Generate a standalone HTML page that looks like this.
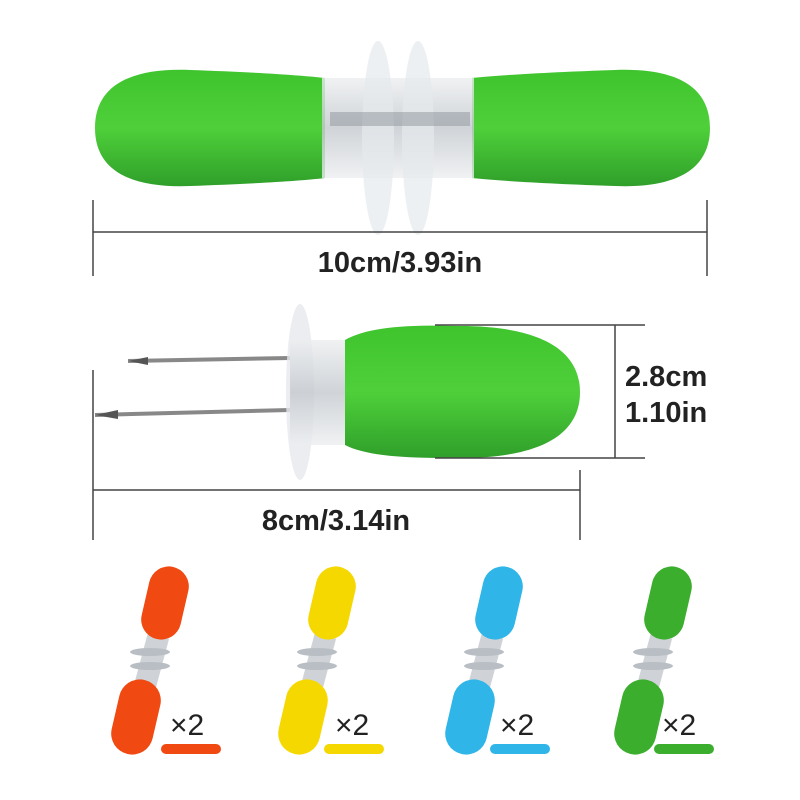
<!DOCTYPE html>
<html><head><meta charset="utf-8"><style>
html,body{margin:0;padding:0;background:#fff;}
svg{display:block}
text{font-family:"Liberation Sans",sans-serif;font-weight:bold;fill:#222}
text.n{font-weight:normal}
</style></head><body>
<svg width="800" height="800" viewBox="0 0 800 800">
<defs>
<linearGradient id="g" x1="0" y1="0" x2="0" y2="1">
<stop offset="0" stop-color="#3fc42e"/><stop offset="0.5" stop-color="#4fd03a"/><stop offset="1" stop-color="#2f9f2a"/></linearGradient>
<linearGradient id="clr" x1="0" y1="0" x2="0" y2="1">
<stop offset="0" stop-color="#eceef0"/><stop offset="0.5" stop-color="#c4c9ce"/><stop offset="1" stop-color="#eceef0"/></linearGradient>
<g id="h">
<rect x="-11" y="-25" width="22" height="50" fill="#cfd3d7" transform="translate(152,660) rotate(15)"/>
<ellipse cx="150" cy="652" rx="20" ry="4" fill="#b8bec4"/>
<ellipse cx="150" cy="666" rx="20" ry="4" fill="#b8bec4"/>
<rect x="-20" y="-37" width="40" height="74" rx="20" transform="translate(165,603) rotate(13)"/>
<rect x="-21" y="-38" width="42" height="76" rx="21" transform="translate(136,717) rotate(13)"/>
</g>
</defs>
<!-- top holder -->
<path d="M95,128 C95,80 140,68 190,70 C250,72 300,75 325,78 L325,178 C300,181 250,184 190,186 C140,188 95,176 95,128Z" fill="url(#g)"/>
<path d="M710,128 C710,80 665,68 615,70 C555,72 500,75 472,78 L472,178 C500,181 555,184 615,186 C665,188 710,176 710,128Z" fill="url(#g)"/>
<rect x="322" y="78" width="152" height="100" fill="url(#clr)" opacity="0.8"/>
<ellipse cx="378" cy="138" rx="16" ry="97" fill="#e6e9ec" opacity="0.7"/>
<ellipse cx="418" cy="138" rx="16" ry="97" fill="#e6e9ec" opacity="0.7"/>
<rect x="330" y="112" width="140" height="14" fill="#8d949b" opacity="0.5"/>
<!-- top dims -->
<line x1="93" y1="200" x2="93" y2="276" stroke="#444" stroke-width="1.5"/>
<line x1="707" y1="200" x2="707" y2="276" stroke="#444" stroke-width="1.5"/>
<line x1="93" y1="232" x2="707" y2="232" stroke="#444" stroke-width="1.5"/>
<text x="400" y="272" font-size="29" text-anchor="middle">10cm/3.93in</text>
<!-- second holder -->
<line x1="128" y1="361" x2="290" y2="358" stroke="#888" stroke-width="4"/>
<line x1="95" y1="415" x2="290" y2="410" stroke="#888" stroke-width="4"/>
<path d="M128,361 L148,357 L148,365Z" fill="#555"/>
<path d="M95,415 L118,410 L118,419Z" fill="#555"/>
<ellipse cx="300" cy="392" rx="14" ry="88" fill="#e6e9ec" opacity="0.8"/>
<rect x="290" y="340" width="60" height="105" fill="url(#clr)" opacity="0.8"/>
<path d="M345,340 C370,325 420,325 460,326 C540,326 580,350 580,392 C580,435 540,458 460,458 C420,458 370,458 345,445Z" fill="url(#g)"/>
<line x1="435" y1="325" x2="645" y2="325" stroke="#444" stroke-width="1.5"/>
<line x1="435" y1="458" x2="645" y2="458" stroke="#444" stroke-width="1.5"/>
<line x1="615" y1="325" x2="615" y2="458" stroke="#444" stroke-width="1.5"/>
<text x="625" y="386" font-size="29">2.8cm</text>
<text x="625" y="422" font-size="29">1.10in</text>
<line x1="93" y1="370" x2="93" y2="540" stroke="#444" stroke-width="1.5"/>
<line x1="580" y1="470" x2="580" y2="540" stroke="#444" stroke-width="1.5"/>
<line x1="93" y1="490" x2="580" y2="490" stroke="#444" stroke-width="1.5"/>
<text x="336" y="530" font-size="29" text-anchor="middle">8cm/3.14in</text>
<!-- small holders -->
<use href="#h" fill="#f04a12"/>
<text class="n" x="170" y="735" font-size="30">×2</text>
<rect x="161" y="744" width="60" height="10" rx="5" fill="#f04a12"/>
<use href="#h" x="167" fill="#f5d800"/>
<text class="n" x="335" y="735" font-size="30">×2</text>
<rect x="324" y="744" width="60" height="10" rx="5" fill="#f5d800"/>
<use href="#h" x="334" fill="#2fb5e8"/>
<text class="n" x="500" y="735" font-size="30">×2</text>
<rect x="490" y="744" width="60" height="10" rx="5" fill="#2fb5e8"/>
<use href="#h" x="503" fill="#3cae2e"/>
<text class="n" x="662" y="735" font-size="30">×2</text>
<rect x="654" y="744" width="60" height="10" rx="5" fill="#3cae2e"/>
</svg>
</body></html>
